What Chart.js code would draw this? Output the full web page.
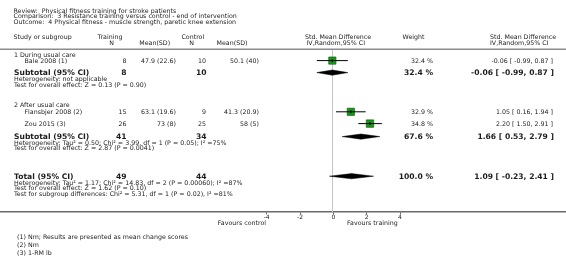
<!DOCTYPE html>
<html>
<head>
<meta charset="utf-8">
<script src="https://cdn.jsdelivr.net/npm/chart.js@4.4.1/dist/chart.umd.min.js"></script>
<style>
  html, body { margin: 0; padding: 0; background: #fff; }
  #wrap { position: relative; width: 566px; height: 265px; }
</style>
</head>
<body>
<div id="wrap"><canvas id="forest"></canvas></div>
<script>
// review info
const review = "Physical fitness training for stroke patients";
const comparison = "3 Resistance training versus control - end of intervention";
const outcome = "4 Physical fitness - muscle strength, paretic knee extension";

// studies
const groups = ["1 During usual care", "2 After usual care"];
const studies = ["Bale 2008 (1)", "Flansbjer 2008 (2)", "Zou 2015 (3)"];
const trainN = [8, 15, 26];
const trainMean = [47.9, 63.1, 73];
const trainSD = [22.6, 19.6, 8];
const ctrlN = [10, 9, 25];
const ctrlMean = [50.1, 41.3, 58];
const ctrlSD = [40, 20.9, 5];
const weight = [32.4, 32.9, 34.8];
const smd = [-0.06, 1.05, 2.20];
const smdLo = [-0.99, 0.16, 1.50];
const smdHi = [0.87, 1.94, 2.91];

// subtotals + total
const pooledLabels = ["Subtotal (95% CI)", "Subtotal (95% CI)", "Total (95% CI)"];
const pooledTrainN = [8, 41, 49];
const pooledCtrlN = [10, 34, 44];
const pooledWeight = [32.4, 67.6, 100.0];
const pooledEst = [-0.06, 1.66, 1.09];
const pooledLo = [-0.99, 0.53, -0.23];
const pooledHi = [0.87, 2.79, 2.41];
const pooledStats = [
  ["Heterogeneity: not applicable",
   "Test for overall effect: Z = 0.13 (P = 0.90)"],
  ["Heterogeneity: Tau\u00B2 = 0.50; Chi\u00B2 = 3.99, df = 1 (P = 0.05); I\u00B2 =75%",
   "Test for overall effect: Z = 2.87 (P = 0.0041)"],
  ["Heterogeneity: Tau\u00B2 = 1.17; Chi\u00B2 = 14.83, df = 2 (P = 0.00060); I\u00B2 =87%",
   "Test for overall effect: Z = 1.62 (P = 0.10)",
   "Test for subgroup differences: Chi\u00B2 = 5.31, df = 1 (P = 0.02), I\u00B2 =81%"]
];

const axisTicks = [-4, -2, 0, 2, 4];
const favours = ["Favours control", "Favours training"];
const footnotes = ["(1) Nm; Results are presented as mean change scores", "(2) Nm", "(3) 1-RM lb"];

// layout (y scale runs in canvas pixels, top = 0)
const groupY = [55, 105.8];
const studyY = [60.6, 111.8, 123.6];
const pooledY = [72.6, 136.6, 176.2];
const statsY = [79.4, 143, 183];
const statsStep = 5.8;
const AXIS_Y = 212;
const X_MIN = -20, X_MAX = 13.96;

const small = '6.3px "DejaVu Sans"';
const bold = 'bold 7.6px "DejaVu Sans"';
const ink = '#1c1c1c';

const fmt = (v) => String(v);
const fmtCI = (e, l, h) => `${e.toFixed(2)} [ ${l.toFixed(2)}, ${h.toFixed(2)} ]`;

// datasets
const datasets = [];

datasets.push({
  type: 'scatter',
  label: 'studies',
  data: studies.map((s, i) => ({ x: smd[i], y: studyY[i] })),
  pointStyle: 'rect',
  pointRadius: weight.map(w => 5.1 * Math.sqrt(w / 33)),
  pointHoverRadius: weight.map(w => 5.1 * Math.sqrt(w / 33)),
  backgroundColor: '#169c16',
  borderColor: '#0a5c0a',
  borderWidth: 0.7,
  order: 3
});

studies.forEach((s, i) => {
  datasets.push({
    type: 'line',
    label: s + ' CI',
    data: [{ x: smdLo[i], y: studyY[i] }, { x: smdHi[i], y: studyY[i] }],
    borderColor: '#000',
    borderWidth: 1,
    pointRadius: 0,
    fill: false,
    order: 2
  });
});

datasets.push({
  type: 'scatter',
  label: 'centres',
  data: studies.map((s, i) => ({ x: smd[i], y: studyY[i] })),
  pointStyle: 'line',
  rotation: 90,
  pointRadius: 1.6,
  borderColor: '#000',
  borderWidth: 1,
  order: 1
});

// diamonds: upper half filled down to lower half
pooledLabels.forEach((p, i) => {
  const h = 2.6;
  datasets.push({
    type: 'line',
    label: p + ' upper',
    data: [{ x: pooledLo[i], y: pooledY[i] }, { x: pooledEst[i], y: pooledY[i] - h }, { x: pooledHi[i], y: pooledY[i] }],
    borderColor: '#000',
    borderWidth: 0.5,
    backgroundColor: '#000',
    pointRadius: 0,
    fill: '+1',
    order: 1
  });
  datasets.push({
    type: 'line',
    label: p + ' lower',
    data: [{ x: pooledLo[i], y: pooledY[i] }, { x: pooledEst[i], y: pooledY[i] + h }, { x: pooledHi[i], y: pooledY[i] }],
    borderColor: '#000',
    borderWidth: 0.5,
    pointRadius: 0,
    fill: false,
    order: 1
  });
});

const forestText = {
  id: 'forestText',
  beforeDatasetsDraw(chart) {
    const { ctx, scales: { x, y } } = chart;
    ctx.save();
    // zero line
    ctx.strokeStyle = '#c4c4c4';
    ctx.lineWidth = 1;
    const x0 = Math.round(x.getPixelForValue(0)) - 0.5;
    ctx.beginPath();
    ctx.moveTo(x0, y.getPixelForValue(50));
    ctx.lineTo(x0, y.getPixelForValue(AXIS_Y));
    ctx.stroke();
    // header rule
    ctx.strokeStyle = '#8c8c8c';
    ctx.lineWidth = 1.6;
    ctx.beginPath();
    ctx.moveTo(0, y.getPixelForValue(49.3));
    ctx.lineTo(chart.width, y.getPixelForValue(49.3));
    ctx.stroke();
    ctx.restore();
  },
  afterDraw(chart) {
    const { ctx, scales: { y } } = chart;
    const put = (str, px, py, align, font) => {
      ctx.font = font || small;
      ctx.textAlign = align || 'left';
      ctx.fillText(str, px, y.getPixelForValue(py));
    };
    ctx.save();
    ctx.fillStyle = ink;
    ctx.textBaseline = 'middle';

    put("Review:  " + review, 13.5, 11);
    put("Comparison:  " + comparison, 13.5, 16.6);
    put("Outcome:  " + outcome, 13.5, 22.2);

    // column headers
    put("Study or subgroup", 13.5, 37.6);
    put("Training", 110, 37.3, 'center');
    put("N", 111.5, 43.6, 'center');
    put("Mean(SD)", 154.7, 43.6, 'center');
    put("Control", 192.8, 37.3, 'center');
    put("N", 191.7, 43.6, 'center');
    put("Mean(SD)", 232, 43.6, 'center');
    put("Std. Mean Difference", 305, 37.3);
    put("IV,Random,95% CI", 306.5, 43.4);
    put("Weight", 413.5, 37.5, 'center');
    put("Std. Mean Difference", 490, 37.1);
    put("IV,Random,95% CI", 490, 43.2);

    groups.forEach((g, i) => put(g, 14, groupY[i]));

    studies.forEach((s, i) => {
      const yy = studyY[i] + 0.4;
      put(s, 24.5, yy);
      put(fmt(trainN[i]), 126.5, yy, 'right');
      put(`${fmt(trainMean[i])} (${fmt(trainSD[i])})`, 176, yy, 'right');
      put(fmt(ctrlN[i]), 206, yy, 'right');
      put(`${fmt(ctrlMean[i])} (${fmt(ctrlSD[i])})`, 259, yy, 'right');
      put(`${weight[i].toFixed(1)} %`, 433, yy, 'right');
      put(fmtCI(smd[i], smdLo[i], smdHi[i]), 553, yy, 'right');
    });

    pooledLabels.forEach((p, i) => {
      const yy = pooledY[i] + 0.4;
      put(p, 14, yy, 'left', bold);
      put(fmt(pooledTrainN[i]), 126.5, yy, 'right', bold);
      put(fmt(pooledCtrlN[i]), 206.5, yy, 'right', bold);
      put(`${pooledWeight[i].toFixed(1)} %`, 433, yy, 'right', bold);
      put(fmtCI(pooledEst[i], pooledLo[i], pooledHi[i]), 554, yy, 'right', bold);
      pooledStats[i].forEach((t, k) => put(t, 14, statsY[i] + k * statsStep));
    });

    put(favours[0], 266, 223.3, 'right');
    put(favours[1], 347, 223.3, 'left');

    footnotes.forEach((f, i) => put(f, 17, 237.3 + i * 8.1));
    ctx.restore();
  }
};

new Chart(document.getElementById('forest'), {
  type: 'scatter',
  data: { datasets },
  options: {
    responsive: true,
    maintainAspectRatio: false,
    animation: false,
    layout: { padding: 0, autoPadding: false },
    plugins: {
      legend: { display: false },
      tooltip: { enabled: false }
    },
    scales: {
      x: {
        type: 'linear',
        min: X_MIN,
        max: X_MAX,
        position: { y: AXIS_Y },
        afterBuildTicks: (scale) => { scale.ticks = axisTicks.map(v => ({ value: v })); },
        grid: { display: true, drawOnChartArea: false, drawTicks: true, tickLength: 2, color: '#666', tickColor: '#666' },
        border: { display: true, color: '#6a6a6a', width: 1.4 },
        ticks: {
          color: ink,
          font: { family: 'DejaVu Sans', size: 6 },
          padding: 0,
          maxRotation: 0,
          autoSkip: false,
          callback: (v) => String(v)
        }
      },
      y: { type: 'linear', min: 0, max: 265, reverse: true, display: false }
    }
  },
  plugins: [forestText]
});
</script>
</body>
</html>
